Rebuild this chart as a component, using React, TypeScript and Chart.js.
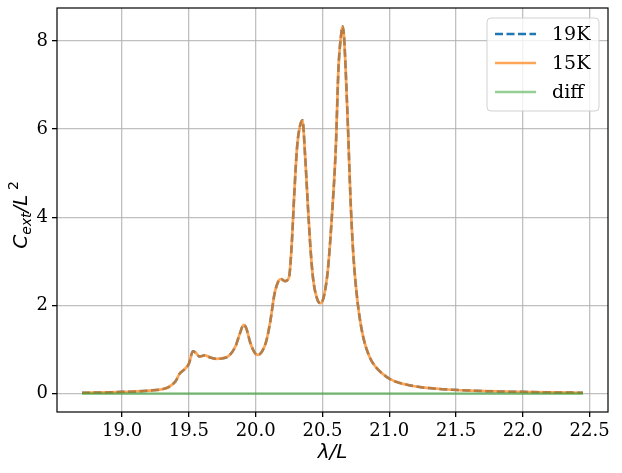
import React, { useEffect, useRef } from "react";
import { Chart, registerables } from "chart.js";

Chart.register(...registerables);

const lambdaValues = [
  18.7, 18.9, 19.0, 19.1, 19.2, 19.3, 19.35, 19.4, 19.43, 19.47, 19.5, 19.53, 19.55, 19.58,
  19.62, 19.66, 19.7, 19.75, 19.8, 19.85, 19.88, 19.91, 19.93, 19.96, 20.0, 20.02, 20.05,
  20.08, 20.11, 20.14, 20.17, 20.19, 20.22, 20.25, 20.27, 20.29, 20.31, 20.33, 20.35, 20.37,
  20.39, 20.41, 20.43, 20.46, 20.485, 20.51, 20.54, 20.57, 20.6, 20.62, 20.64, 20.65, 20.66,
  20.67, 20.69, 20.71, 20.73, 20.76, 20.8, 20.85, 20.9, 20.95, 21.0, 21.07, 21.15, 21.25,
  21.4, 21.6, 21.8, 22.0, 22.2, 22.45,
];

const c19K = [
  0.02, 0.03, 0.04, 0.05, 0.07, 0.1, 0.15, 0.28, 0.45, 0.56, 0.68, 0.96, 0.93, 0.84,
  0.87, 0.82, 0.79, 0.8, 0.86, 1.08, 1.35, 1.56, 1.48, 1.15, 0.9, 0.88, 0.97,
  1.2, 1.65, 2.25, 2.55, 2.6, 2.55, 2.65, 3.4, 4.6, 5.6, 6.05, 6.2, 5.4,
  4.3, 3.3, 2.6, 2.15, 2.05, 2.2, 2.8, 4.0, 5.6, 7.4, 8.15, 8.33, 8.15,
  7.6, 6.1, 4.4, 3.2, 2.15, 1.35, 0.85, 0.6, 0.45, 0.34, 0.25, 0.19, 0.14,
  0.1, 0.07, 0.05, 0.04, 0.03, 0.02,
];

const c15K = [
  0.02, 0.03, 0.04, 0.05, 0.07, 0.1, 0.15, 0.28, 0.45, 0.56, 0.68, 0.96, 0.93, 0.84,
  0.87, 0.82, 0.79, 0.8, 0.86, 1.08, 1.35, 1.56, 1.48, 1.15, 0.9, 0.88, 0.97,
  1.2, 1.65, 2.25, 2.55, 2.6, 2.55, 2.65, 3.4, 4.6, 5.6, 6.05, 6.2, 5.4,
  4.3, 3.3, 2.6, 2.15, 2.05, 2.2, 2.8, 4.0, 5.6, 7.4, 8.15, 8.33, 8.15,
  7.6, 6.1, 4.4, 3.2, 2.15, 1.35, 0.85, 0.6, 0.45, 0.34, 0.25, 0.19, 0.14,
  0.1, 0.07, 0.05, 0.04, 0.03, 0.02,
];

const diffLambda = [18.7, 22.45];
const diffValues = [0, 0];

const xTicks = [19.0, 19.5, 20.0, 20.5, 21.0, 21.5, 22.0, 22.5];
const yTicks = [0, 2, 4, 6, 8];

const seriesLabels = ["19K", "15K", "diff"];
const seriesColors = ["#1f77b4", "rgba(255,127,14,0.7)", "rgba(44,160,44,0.5)"];

const toPoints = (xs: number[], ys: number[]) => xs.map((x, i) => ({ x, y: ys[i] }));

const overlayPlugin = {
  id: "overlay",
  afterDraw(chart: any) {
    const { ctx, chartArea } = chart;
    const { left, right, top, bottom } = chartArea;
    ctx.save();
    // frame
    ctx.strokeStyle = "#000";
    ctx.lineWidth = 1.2;
    ctx.strokeRect(left, top, right - left, bottom - top);

    // x title
    ctx.fillStyle = "#000";
    ctx.font = "italic 20px 'DejaVu Sans'";
    ctx.textAlign = "center";
    ctx.textBaseline = "alphabetic";
    ctx.fillText("λ/L", (left + right) / 2, 458);

    // y title with sub/superscripts
    const big = "italic 20px 'DejaVu Sans'";
    const small = "italic 14px 'DejaVu Sans'";
    const smallUp = "14px 'DejaVu Sans'";
    const parts = [
      { t: "C", f: big, dy: 0 },
      { t: "ext", f: small, dy: 4 },
      { t: "/L", f: big, dy: 0 },
      { t: " ", f: small, dy: 0 },
      { t: "2", f: smallUp, dy: -9 },
    ];
    let total = 0;
    const widths = parts.map((p) => {
      ctx.font = p.f;
      const w = ctx.measureText(p.t).width;
      total += w;
      return w;
    });
    ctx.translate(27, 215);
    ctx.rotate(-Math.PI / 2);
    ctx.textAlign = "left";
    let cx = -total / 2;
    parts.forEach((p, i) => {
      ctx.font = p.f;
      ctx.fillText(p.t, cx, p.dy);
      cx += widths[i];
    });
    ctx.restore();

    // legend
    ctx.save();
    const bx = 487, by = 18, bw = 112, bh = 93, r = 4;
    ctx.beginPath();
    ctx.moveTo(bx + r, by);
    ctx.lineTo(bx + bw - r, by);
    ctx.quadraticCurveTo(bx + bw, by, bx + bw, by + r);
    ctx.lineTo(bx + bw, by + bh - r);
    ctx.quadraticCurveTo(bx + bw, by + bh, bx + bw - r, by + bh);
    ctx.lineTo(bx + r, by + bh);
    ctx.quadraticCurveTo(bx, by + bh, bx, by + bh - r);
    ctx.lineTo(bx, by + r);
    ctx.quadraticCurveTo(bx, by, bx + r, by);
    ctx.closePath();
    ctx.fillStyle = "rgba(255,255,255,0.8)";
    ctx.fill();
    ctx.strokeStyle = "rgba(204,204,204,0.9)";
    ctx.lineWidth = 1;
    ctx.stroke();

    const rowY = [34, 63, 92];
    seriesLabels.forEach((lab, i) => {
      ctx.beginPath();
      ctx.strokeStyle = seriesColors[i];
      ctx.lineWidth = i === 0 ? 2.5 : 2.7;
      ctx.setLineDash(i === 0 ? [8, 3.5] : []);
      ctx.moveTo(495, rowY[i]);
      ctx.lineTo(536, rowY[i]);
      ctx.stroke();
      ctx.setLineDash([]);
      ctx.fillStyle = "#000";
      ctx.font = "19px 'DejaVu Serif'";
      ctx.textAlign = "left";
      ctx.textBaseline = "middle";
      ctx.fillText(lab, 552, rowY[i] + 1);
    });
    ctx.restore();
  },
};

export default function App() {
  const canvasRef = useRef<HTMLCanvasElement | null>(null);

  useEffect(() => {
    const canvas = canvasRef.current;
    if (!canvas) return;
    const gridColor = "rgba(176,176,176,0.8)";
    const chart = new Chart(canvas, {
      type: "line",
      data: {
        datasets: [
          {
            label: seriesLabels[0],
            data: toPoints(lambdaValues, c19K),
            borderColor: seriesColors[0],
            borderWidth: 2.5,
            borderDash: [8, 3.5],
            pointRadius: 0,
            cubicInterpolationMode: "monotone",
            fill: false,
            order: 3,
          },
          {
            label: seriesLabels[1],
            data: toPoints(lambdaValues, c15K),
            borderColor: seriesColors[1],
            borderWidth: 2.7,
            pointRadius: 0,
            cubicInterpolationMode: "monotone",
            fill: false,
            order: 2,
          },
          {
            label: seriesLabels[2],
            data: toPoints(diffLambda, diffValues),
            borderColor: seriesColors[2],
            borderWidth: 2.7,
            pointRadius: 0,
            fill: false,
            order: 1,
          },
        ],
      },
      options: {
        animation: false,
        responsive: false,
        devicePixelRatio: 1,
        layout: { padding: { left: 0, top: 8, right: 14, bottom: 0 } },
        plugins: {
          legend: { display: false },
          tooltip: { enabled: false },
          title: { display: false },
        },
        scales: {
          x: {
            type: "linear",
            min: 18.5125,
            max: 22.6375,
            afterBuildTicks: (axis: any) => {
              axis.ticks = xTicks.map((v) => ({ value: v }));
            },
            afterFit: (axis: any) => {
              axis.height = 61;
              axis.paddingLeft = 0;
              axis.paddingRight = 0;
            },
            grid: {
              color: gridColor,
              lineWidth: 1.3,
              tickColor: "#000",
              tickLength: 5,
              drawOnChartArea: true,
            },
            border: { display: false },
            ticks: {
              color: "#000",
              font: { family: "'DejaVu Serif'", size: 18 },
              padding: 4,
              maxRotation: 0,
              autoSkip: false,
              callback: (v: any) => Number(v).toFixed(1),
            },
          },
          y: {
            type: "linear",
            min: -0.4165,
            max: 8.7465,
            afterBuildTicks: (axis: any) => {
              axis.ticks = yTicks.map((v) => ({ value: v }));
            },
            afterFit: (axis: any) => {
              axis.width = 57;
              axis.paddingTop = 0;
              axis.paddingBottom = 0;
            },
            grid: {
              color: gridColor,
              lineWidth: 1.3,
              tickColor: "#000",
              tickLength: 5,
            },
            border: { display: false },
            ticks: {
              color: "#000",
              font: { family: "'DejaVu Serif'", size: 18 },
              padding: 4,
              autoSkip: false,
              callback: (v: any) => String(v),
            },
          },
        },
      },
      plugins: [overlayPlugin],
    });
    return () => chart.destroy();
  }, []);

  return (
    <div style={{ position: "absolute", left: 0, top: 0, width: 622, height: 473, background: "#fff" }}>
      <canvas ref={canvasRef} width={622} height={473} />
    </div>
  );
}
